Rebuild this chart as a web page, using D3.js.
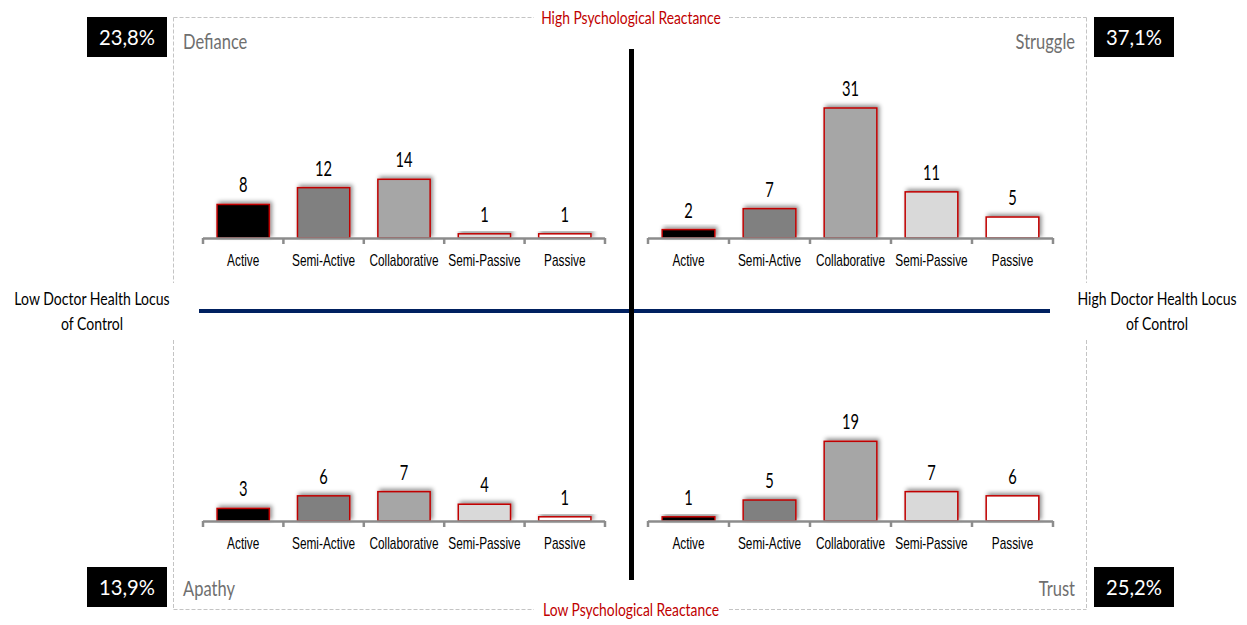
<!DOCTYPE html>
<html>
<head>
<meta charset="utf-8">
<script src="https://cdn.jsdelivr.net/npm/d3@7/dist/d3.min.js"></script>
<style>
  html, body { margin: 0; padding: 0; background: #fff; }
  svg { display: block; font-family: Lato, "Open Sans", sans-serif; }
</style>
</head>
<body>
<svg id="chart" width="1247" height="625"></svg>
<script>
// Participation styles shown on every panel
const categories = ["Active", "Semi-Active", "Collaborative", "Semi-Passive", "Passive"];

// Counts per quadrant
const defianceValues = [8, 12, 14, 1, 1];
const struggleValues = [2, 7, 31, 11, 5];
const apathyValues   = [3, 6, 7, 4, 1];
const trustValues    = [1, 5, 19, 7, 6];

// Quadrant names and their share of respondents
const quadrantNames = ["Defiance", "Struggle", "Apathy", "Trust"];
const quadrantShares = ["23,8%", "37,1%", "13,9%", "25,2%"];

// Axis titles
const topTitle = "High Psychological Reactance";
const bottomTitle = "Low Psychological Reactance";
const leftTitle = ["Low Doctor Health Locus", "of Control"];
const rightTitle = ["High Doctor Health Locus", "of Control"];

const barFills = ["#000000", "#808080", "#a6a6a6", "#d9d9d9", "#ffffff"];

const svg = d3.select("#chart");

// Soft shadow behind the bars
const defs = svg.append("defs");
const f = defs.append("filter").attr("id", "barShadow")
  .attr("x", "-30%").attr("y", "-60%").attr("width", "160%").attr("height", "220%");
f.append("feDropShadow").attr("dx", 2).attr("dy", -2).attr("stdDeviation", 2.2)
  .attr("flood-color", "#000").attr("flood-opacity", 0.45);

// Dashed frame with gaps for the titles
const frame = { x0: 173.5, x1: 1086.5, y0: 17.5, y1: 609.5 };
const gapX = [534, 729], gapY = [283, 340];
const frameSegs = [
  [frame.x0, frame.y0, gapX[0], frame.y0], [gapX[1], frame.y0, frame.x1, frame.y0],
  [frame.x0, frame.y1, gapX[0], frame.y1], [gapX[1], frame.y1, frame.x1, frame.y1],
  [frame.x0, frame.y0, frame.x0, gapY[0]], [frame.x0, gapY[1], frame.x0, frame.y1],
  [frame.x1, frame.y0, frame.x1, gapY[0]], [frame.x1, gapY[1], frame.x1, frame.y1]
];
svg.append("g").selectAll("line").data(frameSegs).join("line")
  .attr("x1", d => d[0]).attr("y1", d => d[1]).attr("x2", d => d[2]).attr("y2", d => d[3])
  .attr("stroke", "#c4c4c4").attr("stroke-width", 1).attr("stroke-dasharray", "4,2");

// Quadrant axes
svg.append("line").attr("x1", 199).attr("x2", 1050).attr("y1", 311).attr("y2", 311)
  .attr("stroke", "#002060").attr("stroke-width", 4);
svg.append("line").attr("x1", 631.5).attr("x2", 631.5).attr("y1", 49).attr("y2", 580)
  .attr("stroke", "#000").attr("stroke-width", 5);

// Shared value scale for all four panels
const y = d3.scaleLinear().domain([0, 31]).range([0, 130]);

const panels = [
  { values: defianceValues, x0: 203, x1: 605, base: 238 },
  { values: struggleValues, x0: 648, x1: 1053, base: 238 },
  { values: apathyValues,   x0: 203, x1: 605, base: 521 },
  { values: trustValues,    x0: 648, x1: 1053, base: 521 }
];

panels.forEach(p => {
  const x = d3.scaleBand().domain(categories).range([p.x0, p.x1])
    .paddingInner(0.35).paddingOuter(0.175);
  const g = svg.append("g");
  const data = categories.map((c, i) => ({ c, v: p.values[i], fill: barFills[i] }));

  g.selectAll("rect.bar").data(data).join("rect").attr("class", "bar")
    .attr("x", d => x(d.c)).attr("width", x.bandwidth())
    .attr("y", d => p.base - y(d.v)).attr("height", d => y(d.v))
    .attr("fill", d => d.fill).attr("stroke", "#c00000").attr("stroke-width", 1.5)
    .attr("filter", "url(#barShadow)");

  g.selectAll("text.val").data(data).join("text").attr("class", "val")
    .attr("x", d => x(d.c) + x.bandwidth() / 2).attr("y", d => p.base - y(d.v) - 12)
    .attr("text-anchor", "middle").attr("font-size", 21).attr("fill", "#000")
    .attr("data-k", 0.7)
    .text(d => d.v);

  // Category axis: labels at band centres, ticks at band boundaries
  const axis = g.append("g").attr("transform", `translate(0,${p.base})`)
    .call(d3.axisBottom(x).tickSize(0).tickPadding(17));
  axis.select(".domain").remove();
  axis.selectAll("text").attr("font-size", 16).attr("fill", "#000")
    .attr("font-family", null).attr("data-k", 0.74);

  const step = x.step();
  const bounds = d3.range(categories.length + 1).map(i => p.x0 + i * step);
  g.append("line").attr("x1", p.x0).attr("x2", p.x1).attr("y1", p.base + 0.5).attr("y2", p.base + 0.5)
    .attr("stroke", "#8c8c8c").attr("stroke-width", 2.5);
  g.selectAll("line.tick").data(bounds).join("line").attr("class", "tick")
    .attr("x1", d => d).attr("x2", d => d).attr("y1", p.base).attr("y2", p.base + 6)
    .attr("stroke", "#8c8c8c").attr("stroke-width", 2.5);
});

// Quadrant names
const nameSpecs = [
  { x: 183, y: 49, anchor: "start" },
  { x: 1075, y: 49, anchor: "end" },
  { x: 183, y: 596, anchor: "start" },
  { x: 1075, y: 596, anchor: "end" }
];
svg.append("g").selectAll("text").data(nameSpecs).join("text")
  .attr("x", d => d.x).attr("y", d => d.y).attr("text-anchor", d => d.anchor)
  .attr("font-size", 22).attr("fill", "#6f6f6f").attr("data-k", 0.75)
  .text((d, i) => quadrantNames[i]);

// Share boxes in the corners
const boxSpecs = [
  { x: 87, y: 17 }, { x: 1094, y: 17 }, { x: 87, y: 567 }, { x: 1094, y: 567 }
];
const boxes = svg.append("g").selectAll("g").data(boxSpecs).join("g")
  .attr("transform", d => `translate(${d.x},${d.y})`);
boxes.append("rect").attr("width", 80).attr("height", 40).attr("fill", "#000");
boxes.append("text").attr("x", 40).attr("y", 28).attr("text-anchor", "middle")
  .attr("font-size", 22).attr("fill", "#fff").attr("data-k", 0.92)
  .text((d, i) => quadrantShares[i]);

// Axis titles
svg.append("text").attr("x", 631).attr("y", 24).attr("text-anchor", "middle")
  .attr("font-size", 18).attr("fill", "#c00000").attr("data-k", 0.77).text(topTitle);
svg.append("text").attr("x", 631).attr("y", 616).attr("text-anchor", "middle")
  .attr("font-size", 18).attr("fill", "#c00000").attr("data-k", 0.77).text(bottomTitle);

[[leftTitle, 92], [rightTitle, 1157]].forEach(([lines, cx]) => {
  svg.append("g").selectAll("text").data(lines).join("text")
    .attr("x", cx).attr("y", (d, i) => 305 + i * 25).attr("text-anchor", "middle")
    .attr("font-size", 18).attr("fill", "#000").attr("data-k", 0.78).text(d => d);
});

// Condense every label horizontally: move its anchor into a transform and squeeze x
svg.selectAll("text").each(function () {
  const k = +this.getAttribute("data-k") || 0.76;
  const tx = +this.getAttribute("x") || 0;
  const ty = +this.getAttribute("y") || 0;
  this.setAttribute("x", 0);
  this.setAttribute("y", 0);
  this.setAttribute("transform", `translate(${tx},${ty}) scale(${k},1)`);
});
</script>
</body>
</html>
